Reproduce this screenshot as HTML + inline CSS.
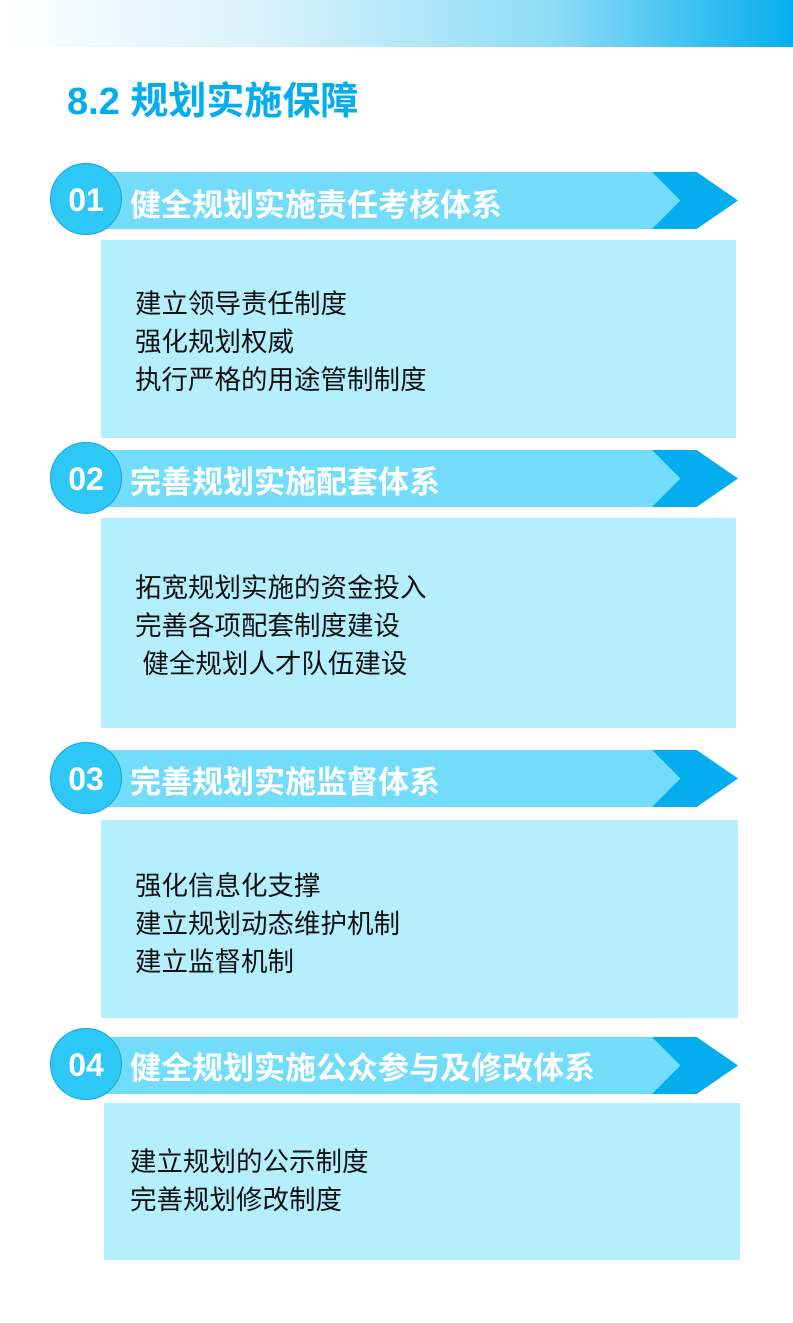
<!DOCTYPE html>
<html><head><meta charset="utf-8"><style>
body{margin:0;width:793px;height:1323px;position:relative;background:#fff;overflow:hidden;font-family:"Liberation Sans","Noto Sans CJK SC",sans-serif}
.top{position:absolute;left:0;top:0;width:793px;height:47px;background:linear-gradient(90deg,#fff 0%,#d6f1fb 35%,#8ddcf6 70%,#04aeee 100%)}
.title{position:absolute;left:67px;top:78px;font-size:38px;font-weight:bold;color:#04aeee;line-height:48px;white-space:nowrap}
.bar{position:absolute;left:95px;width:600px;height:57px;background:#74dcfb}
.chev{position:absolute;left:652px;width:86px;height:57px;background:#04aeee;clip-path:polygon(0 0,52% 0,100% 50%,52% 100%,0 100%,33% 50%)}
.circ{position:absolute;left:50px;width:70px;height:70px;border-radius:50%;background:#2ec8f7;border:1.5px solid #10a8dc;color:#fff;font-weight:bold;font-size:32px;text-align:center;line-height:72px}
.ht{position:absolute;left:130px;color:#fff;font-weight:bold;font-size:31px;line-height:40px;white-space:nowrap}
.box{position:absolute;background:#b5eefd}
.t{position:absolute;font-size:26.5px;color:#111;line-height:38px;white-space:nowrap}
</style></head><body>
<div class="top"></div>
<div class="title">8.2 规划实施保障</div>

<div class="bar" style="top:172px"></div><div class="chev" style="top:172px"></div>
<div class="circ" style="top:163px">01</div>
<div class="ht" style="top:186px">健全规划实施责任考核体系</div>
<div class="box" style="left:101px;top:240px;width:635px;height:198px"></div>
<div class="t" style="left:135px;top:285px">建立领导责任制度<br>强化规划权威<br>执行严格的用途管制制度</div>

<div class="bar" style="top:450px"></div><div class="chev" style="top:450px"></div>
<div class="circ" style="top:442px">02</div>
<div class="ht" style="top:463px">完善规划实施配套体系</div>
<div class="box" style="left:101px;top:518px;width:635px;height:210px"></div>
<div class="t" style="left:135px;top:569px">拓宽规划实施的资金投入<br>完善各项配套制度建设<br>&nbsp;健全规划人才队伍建设</div>

<div class="bar" style="top:750px"></div><div class="chev" style="top:750px"></div>
<div class="circ" style="top:742px">03</div>
<div class="ht" style="top:763px">完善规划实施监督体系</div>
<div class="box" style="left:101px;top:820px;width:637px;height:198px"></div>
<div class="t" style="left:135px;top:867px">强化信息化支撑<br>建立规划动态维护机制<br>建立监督机制</div>

<div class="bar" style="top:1037px"></div><div class="chev" style="top:1037px"></div>
<div class="circ" style="top:1028px">04</div>
<div class="ht" style="top:1049px">健全规划实施公众参与及修改体系</div>
<div class="box" style="left:104px;top:1103px;width:636px;height:157px"></div>
<div class="t" style="left:130px;top:1143px">建立规划的公示制度<br>完善规划修改制度</div>
</body></html>
